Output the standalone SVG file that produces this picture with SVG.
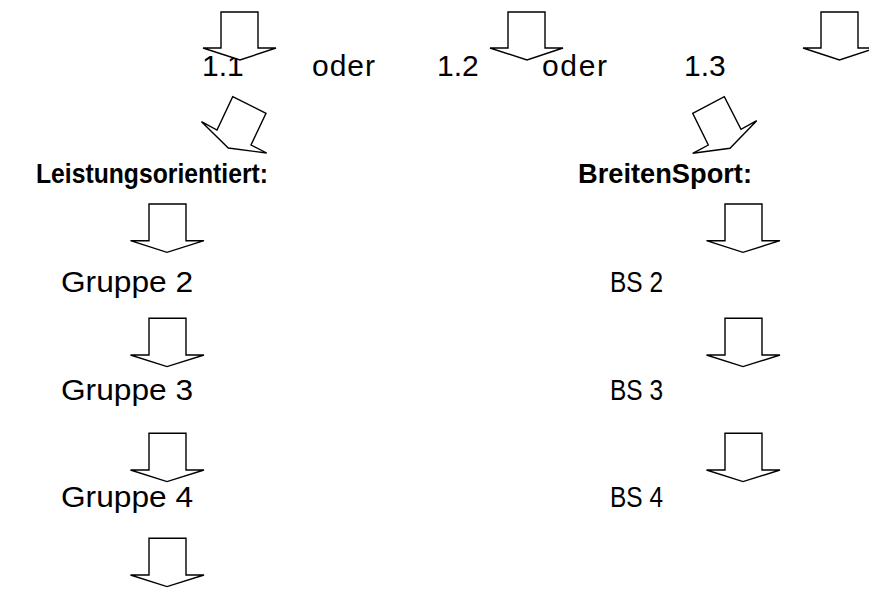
<svg xmlns="http://www.w3.org/2000/svg" width="869" height="596" viewBox="0 0 869 596">
<style>
text{font-family:"Liberation Sans",Arial,sans-serif;font-size:30px;fill:#000}
.b{font-weight:bold;font-size:27.5px}
.arrow{fill:#fff;stroke:#000;stroke-width:1.4;stroke-linejoin:miter}
</style>
<defs>
<path id="dn" d="M0,0 H37 V36.7 H55 L18,48.3 L-18.5,36.7 H0 Z"/>
</defs>
<rect width="869" height="596" fill="#fff"/>
<g id="nodes">
<g id="n11"><text x="202" y="76">1.1</text></g>
<g id="oder1"><text x="312" y="76" textLength="63">oder</text></g>
<g id="n12"><text x="437" y="76">1.2</text></g>
<g id="oder2"><text x="542" y="76" textLength="65">oder</text></g>
<g id="n13"><text x="684" y="76">1.3</text></g>
<g id="leistung"><text class="b" x="36" y="183.3" textLength="232" lengthAdjust="spacingAndGlyphs">Leistungsorientiert:</text></g>
<g id="breiten"><text class="b" x="578" y="183.3" textLength="174" lengthAdjust="spacingAndGlyphs">BreitenSport:</text></g>
<g id="g2"><text x="61" y="291.7" textLength="132" lengthAdjust="spacingAndGlyphs">Gruppe 2</text></g>
<g id="g3"><text x="61" y="400" textLength="132" lengthAdjust="spacingAndGlyphs">Gruppe 3</text></g>
<g id="g4"><text x="61" y="507" textLength="132" lengthAdjust="spacingAndGlyphs">Gruppe 4</text></g>
<g id="bs2"><text x="610" y="291.7" textLength="53" lengthAdjust="spacingAndGlyphs">BS 2</text></g>
<g id="bs3"><text x="610" y="400" textLength="53" lengthAdjust="spacingAndGlyphs">BS 3</text></g>
<g id="bs4"><text x="610" y="507" textLength="53" lengthAdjust="spacingAndGlyphs">BS 4</text></g>
</g>
<g id="connectors">
<path class="arrow" d="M221,12 H258 V48 H276 L240,60 L203,48 H221 Z"/>
<path class="arrow" d="M508,12 H545 V48 H563 L527,60 L490,48 H508 Z"/>
<path class="arrow" d="M821,12 H858 V48 H876 L839.5,60 L803,48 H821 Z"/>
<polygon class="arrow" points="232.7,96.7 266,113.3 251,145 266.7,153 228.3,148 201.5,121.7 217,130"/>
<polygon class="arrow" points="692.7,113.3 724.3,96.7 741,129.3 756.7,120.7 730,148.3 692.7,153.3 708.3,145"/>
<use class="arrow" href="#dn" x="149" y="204"/>
<use class="arrow" href="#dn" x="149" y="318.3"/>
<use class="arrow" href="#dn" x="149" y="433.3"/>
<use class="arrow" href="#dn" x="149" y="538.3"/>
<use class="arrow" href="#dn" x="725" y="204"/>
<use class="arrow" href="#dn" x="725" y="318.3"/>
<use class="arrow" href="#dn" x="725" y="433.3"/>
</g>
</svg>
